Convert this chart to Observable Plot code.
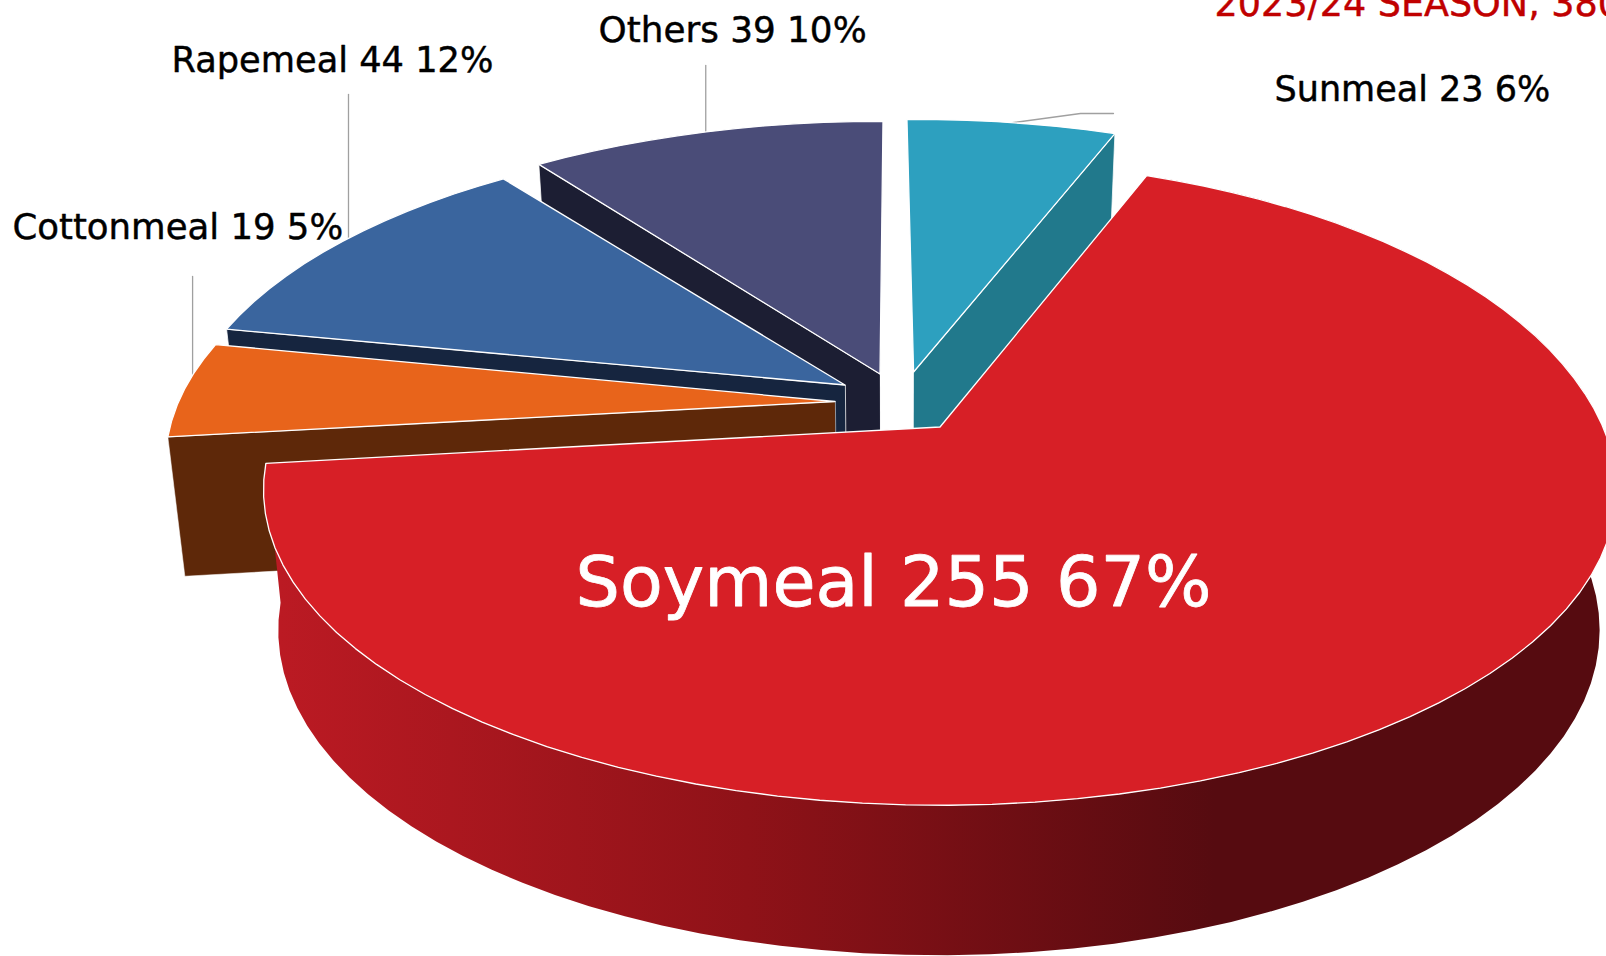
<!DOCTYPE html>
<html>
<head>
<meta charset="utf-8">
<script src="https://cdn.jsdelivr.net/npm/d3@7"></script>
<script src="https://cdn.jsdelivr.net/npm/@observablehq/plot@0.6"></script>
<style>
html,body{margin:0;padding:0;background:#fff;overflow:hidden}
svg{display:block}
</style>
</head>
<body>
<div id="chart"></div>
<script>
// Data, clockwise from the Soymeal slice
const categories = ["Soymeal", "Cottonmeal", "Rapemeal", "Others", "Sunmeal"];
const values = [255, 19, 44, 39, 23];
const title = "2023/24 SEASON, 380";

// Styles
const topColors = ["#d71f26", "#e8641b", "#3a659e", "#4a4c78", "#2da0bf"];
const wallColors = ["url(#soyWall)", "#5e2809", "#16253f", "#1c1e33", "#21798c"];
const paintOrder = [4, 3, 2, 1, 0];
const wallStroke = [0, 0.6, 0.9, 0.9, 0.9];
const wallKind = ["arc", "start", "start", "start", "end"];

// Layout of the exploded 3D pie (screen pixels)
const W = 1606, H = 956;
const startAngle = 22.4 * Math.PI / 180;
const R = 663, S = 303, K = 0.199, SQUEEZE = 0.9766, VANISH_X = 895;
const CENTER = [895, 401.5];
const explode = [[45, 25.5], [-60, 0], [-50, -16.5], [-15, -27.5], [18.6, -29.5]];
const farBulge = [0.07, 0, 0, 0, 0];
const radius = [1, 0.99, 0.987, 1, 1];
const startTrim = [-1.8, -0.6, -0.8, -0.3, -1.3];
const endTrim = [-0.7, -0.6, -0.8, -0.3, -1.3];
const labelPos = [[575, 583], [12, 227], [171, 60], [598, 30], [1274, 89]];
const labelSize = [70, 35.5, 35.2, 35.8, 35];
const labelWeight = [0.8, 0.45, 0.45, 0.45, 0.45];
const labelFill = ["#ffffff", "#000000", "#000000", "#000000", "#000000"];
const leaderTop = [null, 276, 94, 65, 113];
const leaderElbowX = [null, null, null, null, 1113];
const leaderShift = [0, 2, 0, -0.4, -1.5];

const total = d3.sum(values);
const arcs = d3.pie().sort(null).startAngle(startAngle).endAngle(startAngle + 2 * Math.PI)(values);
const DEG = Math.PI / 180;

function topPoint(i, r, a) {
  const [dx, dy] = explode[i];
  const rr = r * (1 + farBulge[i] * Math.max(0, Math.cos(a)) ** 2);
  const X = rr * Math.sin(a), Y = rr * Math.cos(a), w = 1 + K * Y;
  return {x: CENTER[0] + dx + R * X / w, y: CENTER[1] + dy - S * Y / w, Y};
}
function bottomPoint(p) {
  return {x: VANISH_X + (p.x - VANISH_X) * SQUEEZE, y: p.y + 138 - 12 * p.Y};
}
function rim(i) {
  const a0 = arcs[i].startAngle + startTrim[i] * DEG, a1 = arcs[i].endAngle + endTrim[i] * DEG;
  const n = Math.max(2, Math.round((a1 - a0) / (3 * DEG)));
  return d3.range(n + 1).map(j => topPoint(i, radius[i], a0 + (a1 - a0) * j / n));
}
const band = (l1, l2) => l1.map((p, j) => ({x1: p.x, y1: p.y, x2: l2[j].x, y2: l2[j].y}));

const marks = [];
// Gradient used by the Soymeal outer wall
marks.push(() => {
  const g = d3.create("svg:g");
  const lg = g.append("defs").append("linearGradient").attr("id", "soyWall")
    .attr("gradientUnits", "userSpaceOnUse").attr("x1", 280).attr("x2", 1215).attr("y1", 0).attr("y2", 0);
  lg.append("stop").attr("offset", 0).attr("stop-color", "#bb1a23");
  lg.append("stop").attr("offset", 0.5).attr("stop-color", "#8f1218");
  lg.append("stop").attr("offset", 1).attr("stop-color", "#560b10");
  return g.node();
});

// Leader lines, behind the slices
categories.forEach((c, i) => {
  if (leaderTop[i] == null) return;
  const a = (arcs[i].startAngle + arcs[i].endAngle) / 2 + leaderShift[i] * DEG;
  const p = topPoint(i, radius[i], a);
  const pts = leaderElbowX[i] == null
    ? [p, {x: p.x, y: leaderTop[i]}]
    : [p, {x: leaderElbowX[i] - 33, y: leaderTop[i]}, {x: leaderElbowX[i], y: leaderTop[i]}];
  marks.push(Plot.line(pts, {x: "x", y: "y", stroke: "#a0a0a0", strokeWidth: 1.3}));
});

// Slices, far to near: only the wall that faces the viewer, then the top
paintOrder.forEach(i => {
  const top = rim(i), bottom = top.map(bottomPoint);
  const apex = topPoint(i, 0, 0), apexB = bottomPoint(apex);
  const wallOpts = {x1: "x1", y1: "y1", x2: "x2", y2: "y2", fill: wallColors[i], stroke: "#ffffff", strokeWidth: wallStroke[i], strokeOpacity: wallStroke[i] ? 0.85 : 0};
  if (wallKind[i] === "start") marks.push(Plot.area(band([apex, top[0]], [apexB, bottom[0]]), wallOpts));
  if (wallKind[i] === "end") marks.push(Plot.area(band([apex, top[top.length - 1]], [apexB, bottom[bottom.length - 1]]), wallOpts));
  if (wallKind[i] === "arc") marks.push(Plot.area(band(top, bottom), wallOpts));
  marks.push(Plot.area(band(top, top.map(() => apex)), {x1: "x1", y1: "y1", x2: "x2", y2: "y2", fill: topColors[i], stroke: "#ffffff", strokeWidth: 1.3}));
});

// Labels
const labelRows = categories.map((c, i) => ({
  text: `${c} ${values[i]} ${Math.round(values[i] / total * 100)}%`,
  x: labelPos[i][0], y: labelPos[i][1], size: labelSize[i], fill: labelFill[i], weight: labelWeight[i]
}));
paintOrder.forEach(i => {
  const row = labelRows[i];
  marks.push(Plot.text([row], {x: "x", y: "y", text: "text", textAnchor: "start", fontSize: row.size, fontFamily: "DejaVu Sans", fill: row.fill, stroke: row.fill, strokeWidth: row.weight}));
});
marks.push(Plot.text([{text: title, x: 1214, y: 4}], {x: "x", y: "y", text: "text", textAnchor: "start", fontSize: 36.5, fontFamily: "DejaVu Sans", fill: "#c00000", stroke: "#c00000", strokeWidth: 0.45}));

const chart = Plot.plot({
  width: W, height: H, margin: 0,
  x: {domain: [0, W], range: [0, W], axis: null},
  y: {domain: [0, H], range: [0, H], axis: null},
  style: {background: "#fff"},
  marks
});
document.getElementById("chart").append(chart);
</script>
</body>
</html>
